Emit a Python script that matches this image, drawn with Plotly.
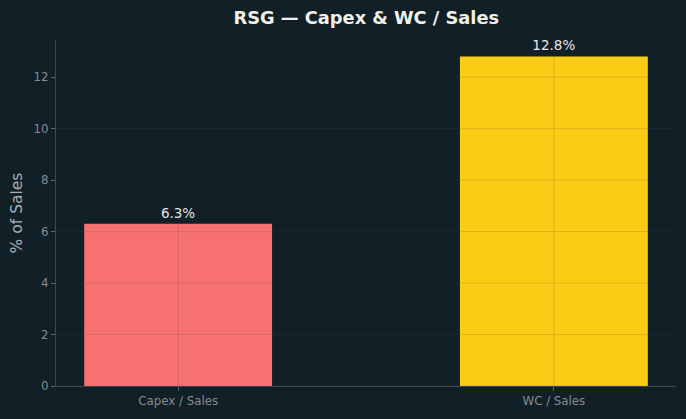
import plotly.graph_objects as go

categories = ["Capex / Sales", "WC / Sales"]
values = [6.3, 12.8]
labels = ["6.3%", "12.8%"]
colors = ["#f87171", "#facc15"]
yticks = [0, 2, 4, 6, 8, 10, 12]

BG = "#111f27"
ymax = max(values) * 1.05

fig = go.Figure()
fig.add_trace(go.Bar(
    x=categories, y=values, width=0.5,
    marker=dict(color=colors, line=dict(width=0)),
    text=labels, textposition="outside", cliponaxis=False,
    textfont=dict(family="DejaVu Sans", size=13.5, color="#e6e6e6"),
    hoverinfo="skip",
))

grid_color = "rgba(70,75,80,0.22)"
shapes = []
for t in yticks:
    shapes.append(dict(type="line", xref="paper", x0=0, x1=1, yref="y", y0=t, y1=t,
                       line=dict(color=grid_color, width=0.8), layer="above"))
for c in categories:
    shapes.append(dict(type="line", xref="x", x0=c, x1=c, yref="paper", y0=0, y1=1,
                       line=dict(color=grid_color, width=0.8), layer="above"))

fig.update_layout(
    width=686, height=419,
    paper_bgcolor=BG, plot_bgcolor=BG,
    margin=dict(l=56, r=10, t=40, b=33),
    title=dict(text="<b>RSG — Capex & WC / Sales</b>", x=0.534, xanchor="center", y=0.957, yanchor="middle",
               font=dict(family="DejaVu Sans", size=17.8, color="#f0f0ea")),
    showlegend=False,
    shapes=shapes,
    bargap=0.5,
)
fig.update_xaxes(
    range=[-0.325, 1.325], showgrid=False, zeroline=False,
    showline=True, linecolor="#3f474c", linewidth=1,
    ticks="outside", ticklen=4, tickcolor="#5c6266",
    tickfont=dict(family="DejaVu Sans", size=11.8, color="#868b8f"),
)
fig.update_yaxes(
    range=[0, ymax], tickvals=yticks, showgrid=False, zeroline=False,
    showline=True, linecolor="#3f474c", linewidth=1,
    ticks="outside", ticklen=4, tickcolor="#5c6266",
    tickfont=dict(family="DejaVu Sans", size=11.8, color="#868b8f"),
    title=dict(text="% of Sales", font=dict(family="DejaVu Sans", size=15.5, color="#a8adb2"), standoff=7),
)

fig.write_html("out.html")
